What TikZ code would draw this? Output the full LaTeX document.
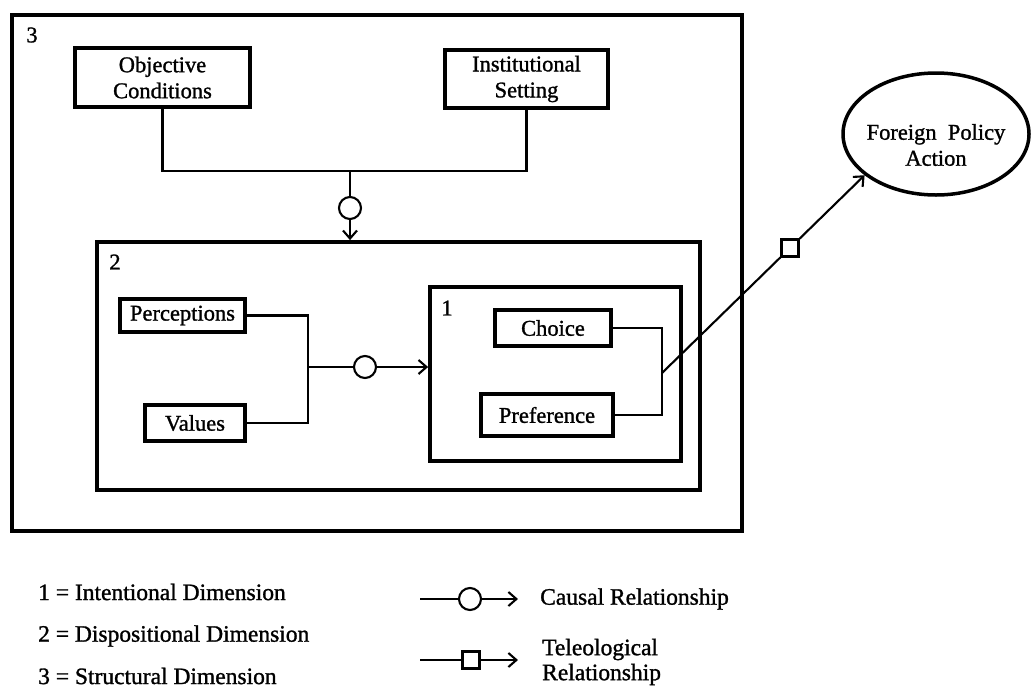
\documentclass[tikz,border=0pt]{standalone}
\usepackage{fontspec}
\setmainfont{Liberation Serif}[BoldFont=Liberation Serif, BoldFeatures={FakeBold=1.2}]
\usetikzlibrary{arrows.meta,shapes.geometric}
\tikzset{
  every node/.style={font=\fontsize{22.5}{26}\selectfont\bfseries},
  box/.style={draw, line width=3.5pt, inner sep=0pt, align=center},
  frame/.style={draw, line width=3.8pt, inner sep=0pt},
  conn/.style={line width=2.1pt},
  circ/.style={draw, circle, line width=2.1pt, fill=white, minimum size=22pt, inner sep=0pt},
  sqr/.style={draw, rectangle, line width=2.1pt, fill=white, minimum size=17pt, inner sep=0pt},
  tip/.style={-{Straight Barb[length=8pt,width=14pt]}},
  lbl/.style={inner sep=0pt},
  leg/.style={inner sep=0pt, font=\fontsize{23.5}{25}\selectfont\bfseries},
}
\begin{document}
\begin{tikzpicture}[x=1pt,y=-1pt]
\useasboundingbox (0,0) rectangle (1033,691);
% frames
\node[frame, minimum width=730, minimum height=516] (b3) at (377,273) {};
\node[frame, minimum width=603, minimum height=248] (b2) at (398.5,366) {};
\node[frame, minimum width=251, minimum height=174] (b1) at (555.5,374) {};
\node[lbl] (n3) at (32,35) {3};
\node[lbl] (n2) at (115,262) {2};
\node[lbl] (n1) at (447,308) {1};
% boxes
\node[box, minimum width=175, minimum height=59] (oc) at (162.5,77.5) {Objective\\Conditions};
\node[box, minimum width=163, minimum height=58] (is) at (526.5,79) {Institutional\\Setting};
\node[box, minimum width=125, minimum height=33] (per) at (182.5,315.5) {Perceptions};
\node[box, minimum width=100, minimum height=36] (val) at (195,423) {Values};
\node[box, minimum width=116, minimum height=36] (cho) at (553,328) {Choice};
\node[box, minimum width=132, minimum height=42] (pre) at (547,415) {Preference};
\node[draw, ellipse, line width=3.5pt, minimum width=186, minimum height=122, inner sep=0pt] (fpa) at (936,134) {};
\node[lbl, align=center] (fpat) at (936,145) {Foreign\ \ Policy\\Action};
% structural -> dispositional
\coordinate (j1) at (350,171);
\node[circ] (c1) at (350,208) {};
\draw[conn] (oc.south) |- (j1) -| (is.south);
\draw[conn] (j1) -- (c1);
\draw[conn,tip] (c1) -- (c1 |- b2.north);
% dispositional -> intentional
\coordinate (j2) at (308,367);
\node[circ] (c2) at (365,367) {};
\draw[conn] (per.east) -| (j2);
\draw[conn] (val.east) -| (j2);
\draw[conn] (j2) -- (c2);
\draw[conn,tip] (c2) -- (c2 -| b1.west);
% intentional -> action
\coordinate (j3) at (662,373);
\node[sqr] (s1) at (790,248) {};
\draw[conn] (cho.east) -| (j3);
\draw[conn] (pre.east) -| (j3);
\draw[conn] (j3) -- (s1);
\draw[conn,tip] (s1) -- (fpa.210);
% legend
\node[leg, anchor=west] (l1) at (38,592) {1 = Intentional Dimension};
\node[leg, anchor=west] (l2) at (38,636) {2 = Dispositional Dimension};
\node[leg, anchor=west] (l3) at (38,676) {3 = Structural Dimension};
\coordinate (ca) at (420,599);
\node[circ] (cc) at (470,599) {};
\coordinate (cb) at (518,599);
\draw[conn] (ca) -- (cc);
\draw[conn,tip] (cc) -- (cb);
\node[leg, anchor=west] (lc) at (540,599) {Causal Relationship};
\coordinate (ta) at (420,660);
\node[sqr] (ts) at (471,660) {};
\coordinate (tb) at (518,660);
\draw[conn] (ta) -- (ts);
\draw[conn,tip] (ts) -- (tb);
\node[leg, anchor=west, align=left] (lt) at (542,662) {Teleological\\Relationship};
\end{tikzpicture}
\end{document}
